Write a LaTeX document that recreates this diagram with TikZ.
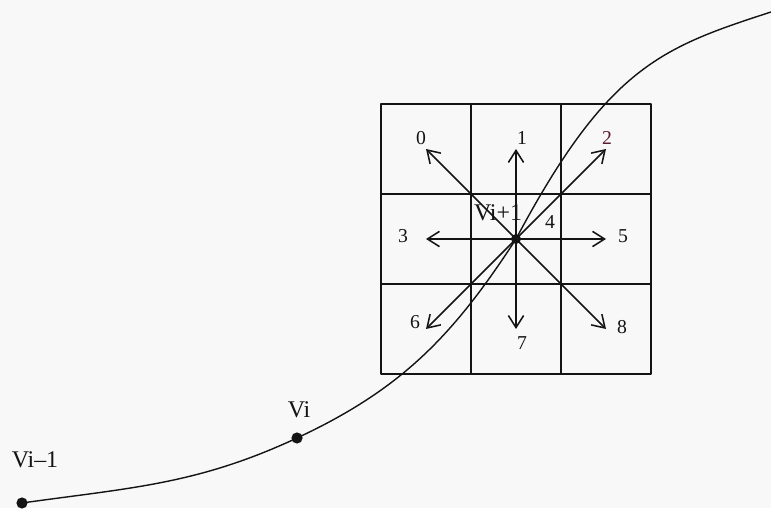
\documentclass[tikz,border=0pt]{standalone}
\usepackage{fontspec}
\setmainfont{Liberation Serif}
\usetikzlibrary{arrows.meta,positioning}
\definecolor{ccInk}{HTML}{141414}
\definecolor{ccPaper}{HTML}{F8F8F8}
\definecolor{ccMark}{HTML}{5A1A2E}
\tikzset{
  cc diagram/.style={x=0.025cm, y=0.025cm, text=ccInk,
    line cap=round, line join=round},
  cc cell/.style={draw=ccInk, line width=1.1pt},
  cc curve/.style={draw=ccInk, line width=1pt},
  cc vertex/.style={circle, fill=ccInk, inner sep=0pt, minimum size=2.8mm},
  cc centre/.style={cc vertex, minimum size=2.5mm},
  cc name/.style={font=\fontsize{17}{20}\selectfont, inner sep=1pt},
  cc digit/.style={font=\fontsize{14}{16}\selectfont, inner sep=1pt},
  cc arrow/.style={-{Straight Barb[length=3mm,width=3.8mm,line width=1.1pt]},
    draw=ccInk, line width=1.1pt, shorten <=-1pt}
}

\begin{document}
\begin{tikzpicture}[cc diagram]
\fill[ccPaper] (0,0) rectangle (771,508);
\useasboundingbox (0,0) rectangle (771,508);
% 3x3 neighbourhood
\draw[cc cell] (381,134) rectangle (651,404);
\foreach \k in {1,2} {
  \draw[cc cell] (381+90*\k,134) -- (381+90*\k,404);
  \draw[cc cell] (381,134+90*\k) -- (651,134+90*\k);
}
% vertices
\node[cc vertex] (vprev) at (22,5) {};
\node[cc vertex] (vi) at (297,70) {};
\node[cc centre] (vnext) at (516,269) {};
\coordinate (top) at (771,496);
\draw[cc curve] (vprev.center) to[out=8,in=205] (vi.center)
  to[out=25,in=237] (vnext.center)
  .. controls +(62:195) and +(198:115) .. (top);
% eight directions
\foreach \d/\dx/\dy in {0/-1/1,1/0/1,2/1/1,3/-1/0,5/1/0,6/-1/-1,7/0/-1,8/1/-1} {
  \coordinate (tip\d) at (516+90*\dx,269+90*\dy);
  \draw[cc arrow] (vnext) -- (tip\d);
}
\node[cc digit] (d0) at (421,370) {0};
\node[cc digit] (d1) at (522,370) {1};
\node[cc digit, text=ccMark] (d2) at (607,370) {2};
\node[cc digit] (d3) at (403,272) {3};
\node[cc digit] (d4) at (550,286) {4};
\node[cc digit] (d5) at (623,272) {5};
\node[cc digit] (d6) at (415,186) {6};
\node[cc digit] (d7) at (522,165) {7};
\node[cc digit] (d8) at (622,181) {8};
% labels
\node[cc name] (lnext) at (498,295) {Vi+1};
\node[cc name] (li) at (299,98) {Vi};
\node[cc name] (lprev) at (35,48) {Vi--1};
\end{tikzpicture}
\end{document}
